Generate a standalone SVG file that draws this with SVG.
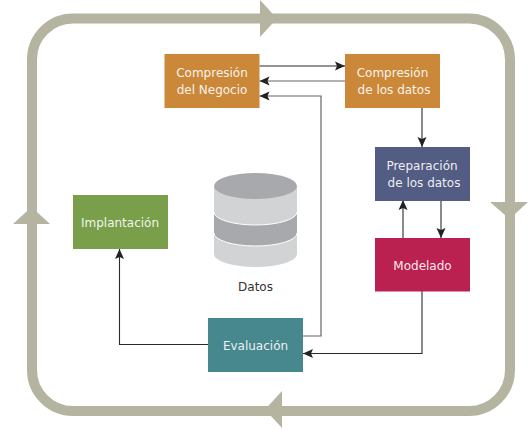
<svg xmlns="http://www.w3.org/2000/svg" width="529" height="430" viewBox="0 0 529 430">
<style>
.n{font-family:"DejaVu Sans",sans-serif;font-size:12px;fill:#fff;text-anchor:middle;fill-opacity:.92}
.c{fill:none;stroke:#2b2b2b;stroke-width:1.1}
.g{fill:none;stroke:#666;stroke-width:1.2}
.f{fill:#b5b4a0}
</style>
<defs>
<marker id="a" markerUnits="userSpaceOnUse" markerWidth="11" markerHeight="11" refX="10" refY="5.500" orient="auto"><path d="M0 1L10 5.500L0 10L2 5.500Z" fill="#222"/></marker>
</defs>
<rect width="529" height="430" fill="#fff"/>
<g id="cycle">
<path d="M73 18.500H469A41 41 0 0 1 510 59.500V370A41 41 0 0 1 469 411H73A41 41 0 0 1 32 370V59.500A41 41 0 0 1 73 18.500Z" fill="none" stroke="#b5b4a0" stroke-width="10"/>
<path class="f" d="M260 0L277 18.500L260 37Z"/>
<path class="f" d="M490 202H528L509.500 219Z"/>
<path class="f" d="M282 391V428L265 409.500Z"/>
<path class="f" d="M13 224H50L31.500 207Z"/>
</g>
<g id="connectors">
<path class="c" d="M259.500 66H345" marker-end="url(#a)"/>
<path class="g" d="M345 81H259.500" marker-end="url(#a)"/>
<path class="g" d="M303 336H321V96H259.500" marker-end="url(#a)"/>
<path class="c" d="M422 108V147" marker-end="url(#a)"/>
<path class="c" d="M441 200V238" marker-end="url(#a)"/>
<path class="c" d="M403 238V200" marker-end="url(#a)"/>
<path class="c" d="M422 291V353.500H303" marker-end="url(#a)"/>
<path class="c" d="M208 344.500H119.500V249" marker-end="url(#a)"/>
</g>
<g id="comprension-negocio"><rect x="164.500" y="54" width="95" height="54" fill="#cc8839"/><text class="n" x="212" y="77">Compresión</text><text class="n" x="212" y="94">del Negocio</text></g>
<g id="comprension-datos"><rect x="345" y="54" width="95" height="54" fill="#cc8839"/><text class="n" x="392.500" y="77">Compresión</text><text class="n" x="394" y="94">de los datos</text></g>
<g id="preparacion"><rect x="375" y="147" width="95" height="54" fill="#535c82"/><text class="n" x="422" y="170">Preparación</text><text class="n" x="424" y="187">de los datos</text></g>
<g id="modelado"><rect x="375" y="238" width="95" height="53.500" fill="#bb2150"/><text class="n" x="422.500" y="269.500">Modelado</text></g>
<g id="implantacion"><rect x="73" y="195" width="95" height="54" fill="#7a9f4a"/><text class="n" x="120" y="227">Implantación</text></g>
<g id="evaluacion"><rect x="208" y="318" width="95" height="54" fill="#46888d"/><text class="n" x="255.500" y="350">Evaluación</text></g>
<g id="datos">
<path d="M214 186V254A41.500 13 0 0 0 297 254V186Z" fill="#d2d3d5"/>
<path d="M214 212A41.500 13 0 0 0 297 212V233A41.500 13 0 0 1 214 233Z" fill="#a7a9ac"/>
<path d="M214 212A41.500 13 0 0 0 297 212M214 233A41.500 13 0 0 0 297 233" fill="none" stroke="#fff" stroke-width="1"/>
<ellipse cx="255.500" cy="186" rx="41.500" ry="13" fill="#a7a9ac"/>
<text x="255.500" y="291" style="font-family:'DejaVu Sans',sans-serif;font-size:12px;fill:#333;text-anchor:middle">Datos</text>
</g>
</svg>
